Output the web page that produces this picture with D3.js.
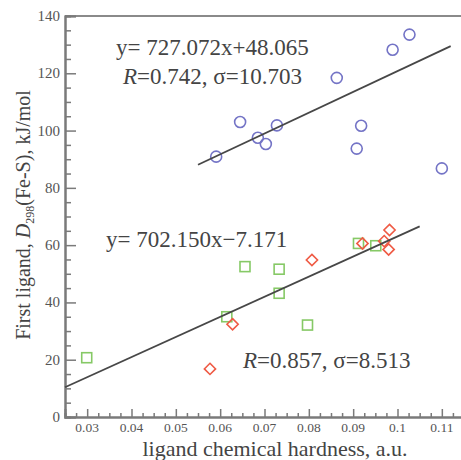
<!DOCTYPE html>
<html>
<head>
<meta charset="utf-8">
<script src="https://cdn.jsdelivr.net/npm/d3@7"></script>
<style>
  html, body { margin: 0; padding: 0; background: #fff; }
  svg { display: block; }
</style>
</head>
<body>
<svg id="chart" width="461" height="460"></svg>
<script>
// First-ligand Fe-S bond energy vs. ligand chemical hardness

const blueHardness = [0.0591, 0.0645, 0.0685, 0.0703, 0.0728, 0.0863, 0.0908, 0.0918, 0.0989, 0.1027, 0.1100];
const blueEnergy   = [90.9, 103.0, 97.5, 95.3, 101.8, 118.4, 93.7, 101.7, 128.2, 133.5, 86.8];

const greenHardness = [0.0299, 0.0615, 0.0656, 0.0733, 0.0733, 0.0797, 0.0912, 0.0951];
const greenEnergy   = [20.7, 35.0, 52.5, 51.6, 43.2, 32.1, 60.6, 59.8];

const redHardness = [0.0577, 0.0628, 0.0807, 0.0921, 0.0970, 0.0980, 0.0982];
const redEnergy   = [16.8, 32.4, 54.8, 60.6, 61.4, 58.5, 65.3];

// linear fits: [slope, intercept], drawn over [from, to]
const fitSlopes     = [727.072, 702.150];
const fitIntercepts = [48.065, -7.171];
const fitFrom       = [0.055, 0.025];
const fitTo         = [0.112, 0.105];

const xTickValues = [0.03, 0.04, 0.05, 0.06, 0.07, 0.08, 0.09, 0.10, 0.11];
const xTickLabels = ["0.03", "0.04", "0.05", "0.06", "0.07", "0.08", "0.09", "0.1", "0.11"];
const yTickValues = [0, 20, 40, 60, 80, 100, 120, 140];

const svg = d3.select("#chart");
const serif = "Liberation Serif, Times New Roman, DejaVu Serif, serif";

const x = d3.scaleLinear().domain([0.025, 0.115]).range([65, 464]);
const y = d3.scaleLinear().domain([0, 140]).range([417, 16]);

const axisColor = "#7a7a7a";
const textColor = "#555";

// frame top line
svg.append("line")
  .attr("x1", x(0.025)).attr("x2", 461)
  .attr("y1", y(140)).attr("y2", y(140))
  .attr("stroke", "#8a8a8a").attr("stroke-width", 2);

// y axis: minor ticks every 5, major every 20, ticks pointing inward
const yMinor = d3.range(0, 141, 5).filter(v => v % 20 !== 0);
const gy = svg.append("g").attr("transform", `translate(${x(0.025)},0)`);
gy.call(d3.axisRight(y).tickValues(yMinor).tickSize(6).tickFormat(""));
gy.append("g").call(d3.axisRight(y).tickValues(yTickValues).tickSize(11).tickFormat(""));
gy.selectAll("line").attr("stroke", axisColor).attr("stroke-width", 1.5);
gy.selectAll(".domain").attr("stroke", axisColor).attr("stroke-width", 2);

svg.append("g").selectAll("text").data(yTickValues).join("text")
  .attr("x", 60).attr("y", d => y(d) + 5)
  .attr("text-anchor", "end")
  .attr("font-family", serif).attr("font-size", 15)
  .attr("fill", textColor)
  .text(d => d);

// x axis: minor ticks every 0.0025, major every 0.01
const xMinor = d3.range(0, 37).map(i => 0.025 + i * 0.0025)
  .filter(v => Math.abs(v * 100 - Math.round(v * 100)) > 1e-6);
const gx = svg.append("g").attr("transform", `translate(0,${y(0)})`);
gx.call(d3.axisTop(x).tickValues(xMinor).tickSize(4).tickFormat(""));
gx.append("g").call(d3.axisTop(x).tickValues(xTickValues).tickSize(8).tickFormat(""));
gx.selectAll("line").attr("stroke", axisColor).attr("stroke-width", 1.5);
gx.selectAll(".domain").attr("stroke", axisColor).attr("stroke-width", 2);

svg.append("g").selectAll("text").data(xTickValues).join("text")
  .attr("x", d => x(d)).attr("y", 432)
  .attr("text-anchor", "middle")
  .attr("font-family", serif).attr("font-size", 13.5)
  .attr("fill", textColor)
  .text((d, i) => xTickLabels[i]);

// axis titles
svg.append("text")
  .attr("x", 275).attr("y", 456)
  .attr("text-anchor", "middle")
  .attr("font-family", serif).attr("font-size", 22)
  .attr("fill", "#444")
  .text("ligand chemical hardness, a.u.");

const yTitle = svg.append("text")
  .attr("transform", "translate(30,215) rotate(-90)")
  .attr("text-anchor", "middle")
  .attr("font-family", serif).attr("font-size", 20)
  .attr("fill", "#444");
yTitle.append("tspan").text("First ligand, ");
yTitle.append("tspan").attr("font-style", "italic").text("D");
yTitle.append("tspan").attr("font-size", 12).attr("dy", 4).text("298");
yTitle.append("tspan").attr("dy", -4).text("(Fe-S), kJ/mol");

// markers
const blue = blueHardness.map((h, i) => [h, blueEnergy[i]]);
const green = greenHardness.map((h, i) => [h, greenEnergy[i]]);
const red = redHardness.map((h, i) => [h, redEnergy[i]]);

svg.append("g").selectAll("circle").data(blue).join("circle")
  .attr("cx", d => x(d[0])).attr("cy", d => y(d[1])).attr("r", 5.5)
  .attr("fill", "none").attr("stroke", "#7474c6").attr("stroke-width", 1.6);

svg.append("g").selectAll("rect").data(green).join("rect")
  .attr("x", d => x(d[0]) - 5).attr("y", d => y(d[1]) - 5)
  .attr("width", 10).attr("height", 10)
  .attr("fill", "none").attr("stroke", "#86c966").attr("stroke-width", 1.6);

const diamond = d3.symbol().type(d3.symbolDiamond2).size(80);
svg.append("g").selectAll("path").data(red).join("path")
  .attr("d", diamond)
  .attr("transform", d => `translate(${x(d[0])},${y(d[1])})`)
  .attr("fill", "none").attr("stroke", "#ef5a44").attr("stroke-width", 1.6);

// regression lines
const line = d3.line().x(d => x(d[0])).y(d => y(d[1]));
fitSlopes.forEach((a, i) => {
  const pts = [fitFrom[i], fitTo[i]].map(h => [h, a * h + fitIntercepts[i]]);
  svg.append("path").attr("d", line(pts))
    .attr("fill", "none").attr("stroke", "#474747").attr("stroke-width", 1.8);
});

// fit annotations
function annotate(px, py, parts) {
  const t = svg.append("text")
    .attr("x", px).attr("y", py)
    .attr("font-family", serif).attr("font-size", 23)
    .attr("fill", "#444");
  parts.forEach(p => {
    const s = t.append("tspan").text(p[0]);
    if (p[1]) s.attr("font-style", "italic");
  });
}
annotate(116, 55, [["y"], ["= " + fitSlopes[0].toFixed(3) + "x+" + fitIntercepts[0].toFixed(3)]]);
annotate(123, 84, [["R", true], ["=0.742, σ=10.703"]]);
annotate(106, 247, [["y"], ["= " + fitSlopes[1].toFixed(3) + "x\u2212" + Math.abs(fitIntercepts[1]).toFixed(3)]]);
annotate(243, 368, [["R", true], ["=0.857, σ=8.513"]]);
</script>
</body>
</html>
